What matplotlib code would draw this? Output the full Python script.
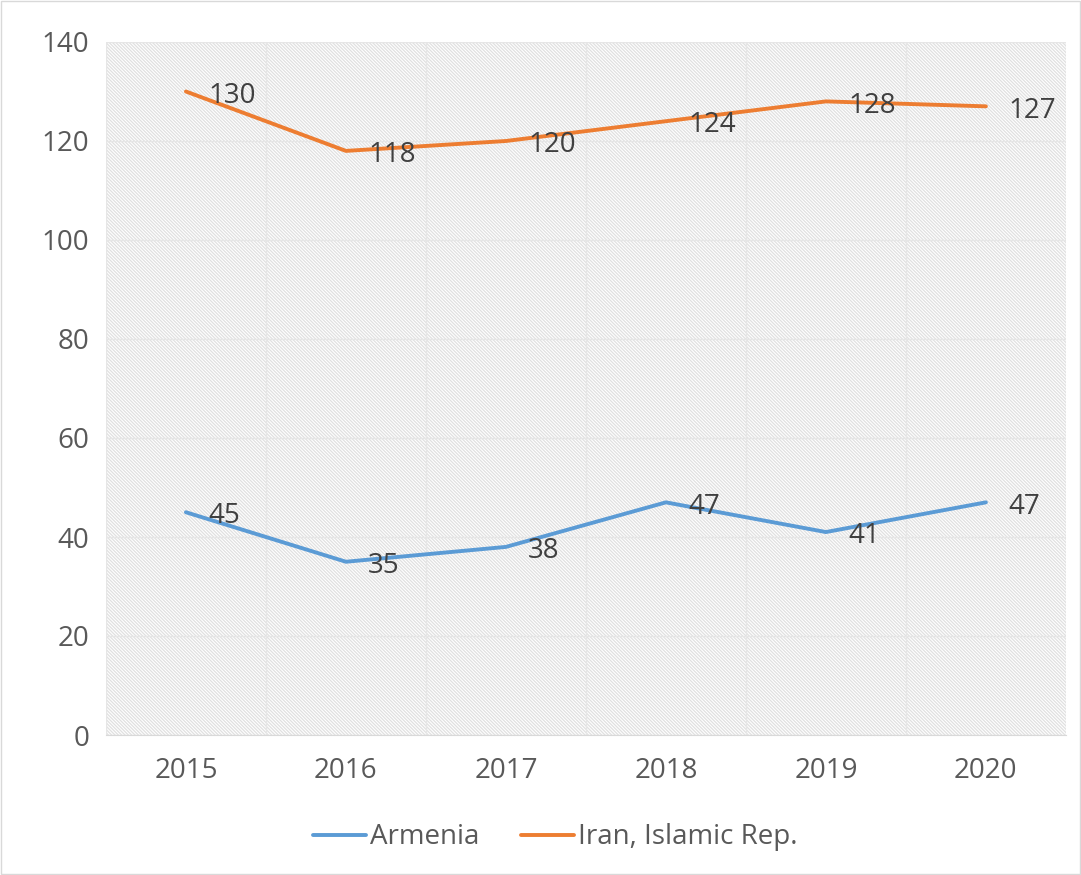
import matplotlib
matplotlib.use('Agg')
import matplotlib.pyplot as plt
from matplotlib.patches import Rectangle

years = ['2015', '2016', '2017', '2018', '2019', '2020']
armenia = [45, 35, 38, 47, 41, 47]
iran = [130, 118, 120, 124, 128, 127]

plt.rcParams['font.family'] = ['Open Sans', 'DejaVu Sans']
plt.rcParams['hatch.color'] = '#e0e0e0'
plt.rcParams['hatch.linewidth'] = 0.9

fig = plt.figure(figsize=(10.81, 8.75), dpi=100)
ax = fig.add_axes([0.098, 0.16, 0.888, 0.792])

# outer border of the chart
fig.patches.append(Rectangle((0.001, 0.001), 0.998, 0.998, transform=fig.transFigure,
                             fill=False, edgecolor='#d9d9d9', linewidth=1))

ax.add_patch(Rectangle((0, 0), 1, 1, transform=ax.transAxes, facecolor='white',
                       edgecolor='#e0e0e0', hatch='\\' * 10, linewidth=0, zorder=0))

x = list(range(len(years)))
ax.plot(x, armenia, color='#5B9BD5', lw=2.8, label='Armenia', solid_capstyle='round', zorder=3)
ax.plot(x, iran, color='#ED7D31', lw=2.8, label='Iran, Islamic Rep.', solid_capstyle='round', zorder=3)

for xi, v in zip(x, armenia):
    ax.annotate(str(v), (xi, v), xytext=(16, -3), textcoords='offset points',
                ha='left', va='center', fontsize=20, color='#404040', zorder=4)
for xi, v in zip(x, iran):
    ax.annotate(str(v), (xi, v), xytext=(16, -3), textcoords='offset points',
                ha='left', va='center', fontsize=20, color='#404040', zorder=4)

ax.set_xlim(-0.5, 5.5)
ax.set_ylim(0, 140)
ax.set_yticks(range(0, 141, 20))
ax.set_xticks(x)
ax.set_xticklabels(years)
ax.set_xticks([i * 0.5 - 0.5 for i in range(13)], minor=True)
ax.grid(True, which='minor', axis='x', color='#e6e6e6', lw=1, zorder=1)
ax.grid(True, which='major', axis='y', color='#e6e6e6', lw=1, zorder=1)
ax.set_axisbelow(True)
ax.tick_params(which='both', length=0, labelsize=20, labelcolor='#595959')
ax.tick_params(axis='x', pad=16)
ax.tick_params(axis='y', pad=12)

for s in ['top', 'right', 'left']:
    ax.spines[s].set_visible(False)
ax.spines['bottom'].set_color('#d9d9d9')

fig.legend(loc='center', bbox_to_anchor=(0.514, 0.043), ncol=2, frameon=False,
           fontsize=20, labelcolor='#595959', handlelength=1.9, handletextpad=0.15,
           columnspacing=1.5)

fig.savefig('out.png', dpi=100)
